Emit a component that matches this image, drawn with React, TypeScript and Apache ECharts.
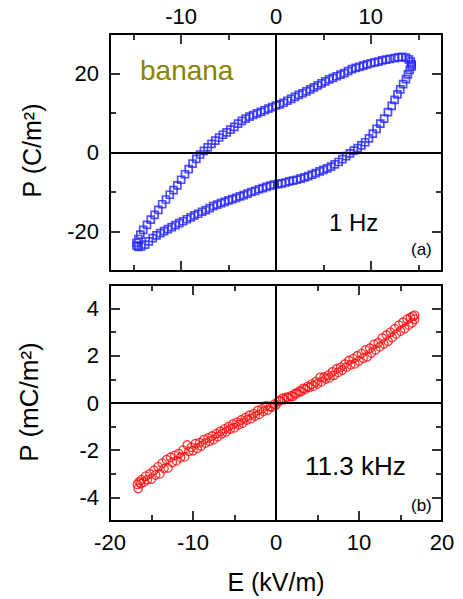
import React, { useEffect, useRef } from "react";
import * as echarts from "echarts";

const FONT = "Liberation Sans";

// ---- tick / label values ----
const topXLabels = [-10, 0, 10];
const topXMajor = [-10, 0, 10];
const topXMinor = [-15, -5, 5, 15];
const topYLabels = [-20, 0, 20];
const topYMajor = [-20, 0, 20];
const topYMinor = [-10, 10];
const botXLabels = [-20, -10, 0, 10, 20];
const botXMajor = [-20, -10, 0, 10, 20];
const botXMinor = [-15, -5, 5, 15];
const botYLabels = [-4, -2, 0, 2, 4];
const botYMajor = [-4, -2, 0, 2, 4];
const botYMinor = [-3, -1, 1, 3];

// ---- (a) 1 Hz hysteresis loop: [E (kV/m), P (C/m²)] ----
const loopUpperBranch = [
  [14.3, 22.3], [14.2, 23.0], [14.0, 23.6], [13.7, 24.0], [13.3, 24.2], [12.9, 24.1], [12.5, 23.9],
  [12.0, 23.7], [11.6, 23.5], [11.2, 23.3], [10.8, 23.0], [10.4, 22.8], [10.0, 22.6], [9.6, 22.3],
  [9.2, 22.0], [8.8, 21.7], [8.4, 21.4], [8.0, 21.1], [7.6, 20.6], [7.2, 20.1], [6.8, 19.7],
  [6.4, 19.3], [6.0, 18.9], [5.6, 18.5], [5.2, 18.0], [4.8, 17.5], [4.4, 17.0], [4.0, 16.5],
  [3.6, 16.0], [3.2, 15.5], [2.8, 15.0], [2.4, 14.6], [2.0, 14.1], [1.6, 13.6], [1.2, 13.1],
  [0.8, 12.6], [0.4, 12.2], [0.0, 11.9], [-0.4, 11.5], [-0.8, 11.1], [-1.2, 10.7], [-1.6, 10.3],
  [-2.0, 9.9], [-2.4, 9.5], [-2.8, 9.1], [-3.2, 8.6], [-3.6, 8.0], [-4.0, 7.3], [-4.4, 6.5],
  [-4.8, 5.8], [-5.2, 5.1], [-5.6, 4.5], [-6.0, 3.8], [-6.4, 3.0], [-6.8, 2.2], [-7.2, 1.3],
  [-7.6, 0.4], [-8.0, -0.5], [-8.4, -1.6], [-8.8, -2.8], [-9.2, -4.2], [-9.6, -5.5], [-10.0, -6.9],
  [-10.4, -8.3], [-10.8, -9.5], [-11.2, -10.7], [-11.6, -11.9], [-12.0, -13.1], [-12.4, -14.5],
  [-12.8, -15.8], [-13.2, -17.0], [-13.6, -18.3], [-14.0, -19.6], [-14.3, -20.8], [-14.5, -21.9],
  [-14.7, -22.9], [-14.7, -23.6], [-14.5, -23.9],
];
const loopLowerBranch = [
  [-14.2, -23.8], [-13.8, -23.3], [-13.4, -22.5], [-13.0, -21.7], [-12.6, -21.0], [-12.2, -20.4],
  [-11.8, -19.9], [-11.4, -19.4], [-11.0, -18.9], [-10.6, -18.4], [-10.2, -17.9], [-9.8, -17.4],
  [-9.4, -16.9], [-9.0, -16.4], [-8.6, -15.9], [-8.2, -15.5], [-7.8, -15.0], [-7.4, -14.6],
  [-7.0, -14.1], [-6.6, -13.6], [-6.2, -13.2], [-5.8, -12.8], [-5.4, -12.5], [-5.0, -12.1],
  [-4.6, -11.8], [-4.2, -11.5], [-3.8, -11.1], [-3.4, -10.8], [-3.0, -10.4], [-2.6, -10.0],
  [-2.2, -9.7], [-1.8, -9.3], [-1.4, -9.0], [-1.0, -8.7], [-0.6, -8.4], [-0.2, -8.1], [0.2, -8.0],
  [0.6, -7.8], [1.0, -7.6], [1.4, -7.3], [1.8, -7.1], [2.2, -6.9], [2.6, -6.6], [3.0, -6.3],
  [3.4, -6.0], [3.8, -5.6], [4.2, -5.2], [4.6, -4.8], [5.0, -4.4], [5.4, -4.0], [5.8, -3.6],
  [6.2, -3.0], [6.6, -2.4], [7.0, -1.7], [7.4, -0.9], [7.8, -0.2], [8.2, 0.5], [8.6, 1.1],
  [9.0, 1.8], [9.4, 2.6], [9.8, 3.6], [10.2, 4.8], [10.6, 6.0], [11.0, 7.3], [11.4, 8.6],
  [11.8, 10.2], [12.2, 11.8], [12.5, 13.3], [12.8, 14.7], [13.1, 16.0], [13.4, 17.3], [13.7, 18.6],
  [13.9, 19.8], [14.1, 20.9], [14.3, 21.8],
];

// ---- (b) 11.3 kHz: [E (kV/m), P (mC/m²)] ----
const kHzSweepUp = [
  [-16.6, -3.62], [-16.3, -3.42], [-15.9, -3.35], [-15.5, -3.25], [-15.0, -3.22], [-14.5, -3.05],
  [-14.0, -3.0], [-13.5, -2.78], [-13.0, -2.75], [-12.5, -2.52], [-12.0, -2.45], [-11.5, -2.3],
  [-11.0, -2.28], [-10.5, -2.05], [-10.0, -2.02], [-9.5, -1.92], [-9.0, -1.82], [-8.5, -1.7],
  [-8.0, -1.62], [-7.5, -1.55], [-7.0, -1.42], [-6.5, -1.3], [-6.0, -1.22], [-5.5, -1.1],
  [-5.0, -1.05], [-4.5, -0.92], [-4.0, -0.85], [-3.5, -0.72], [-3.0, -0.66], [-2.5, -0.55],
  [-2.0, -0.48], [-1.5, -0.35], [-1.0, -0.3], [-0.5, -0.18], [0.0, -0.08], [0.5, 0.1], [1.0, 0.15],
  [1.5, 0.22], [2.0, 0.28], [2.5, 0.4], [3.0, 0.48], [3.5, 0.58], [4.0, 0.66], [4.5, 0.72],
  [5.0, 0.82], [5.5, 0.9], [6.0, 1.02], [6.5, 1.08], [7.0, 1.18], [7.5, 1.3], [8.0, 1.4],
  [8.5, 1.52], [9.0, 1.62], [9.5, 1.66], [10.0, 1.78], [10.5, 1.9], [11.0, 1.96], [11.5, 2.12],
  [12.0, 2.25], [12.5, 2.38], [13.0, 2.5], [13.5, 2.62], [14.0, 2.78], [14.5, 2.92], [15.0, 3.05],
  [15.5, 3.15], [16.0, 3.3], [16.4, 3.4], [16.7, 3.55],
];
const kHzSweepDown = [
  [16.7, 3.72], [16.5, 3.68], [16.2, 3.62], [15.8, 3.55], [15.3, 3.42], [14.8, 3.3], [14.3, 3.15],
  [13.8, 3.0], [13.3, 2.88], [12.8, 2.75], [12.3, 2.55], [11.8, 2.48], [11.3, 2.32], [10.8, 2.25],
  [10.3, 2.1], [9.8, 2.0], [9.3, 1.88], [8.8, 1.8], [8.3, 1.65], [7.8, 1.52], [7.3, 1.45],
  [6.8, 1.32], [6.3, 1.18], [5.8, 1.1], [5.3, 1.08], [4.8, 0.9], [4.3, 0.8], [3.8, 0.7],
  [3.3, 0.62], [2.8, 0.5], [2.3, 0.4], [1.8, 0.3], [1.3, 0.25], [0.8, 0.2], [0.3, 0.08],
  [-0.2, -0.05], [-0.7, -0.15], [-1.2, -0.12], [-1.7, -0.25], [-2.2, -0.32], [-2.7, -0.45],
  [-3.2, -0.52], [-3.7, -0.62], [-4.2, -0.72], [-4.7, -0.82], [-5.2, -0.9], [-5.7, -1.0],
  [-6.2, -1.1], [-6.7, -1.2], [-7.2, -1.3], [-7.7, -1.4], [-8.2, -1.48], [-8.7, -1.55],
  [-9.2, -1.68], [-9.7, -1.72], [-10.2, -1.88], [-10.7, -1.78], [-11.2, -2.0], [-11.7, -2.15],
  [-12.2, -2.22], [-12.7, -2.3], [-13.2, -2.4], [-13.7, -2.55], [-14.2, -2.7], [-14.7, -2.85],
  [-15.2, -3.0], [-15.7, -3.1], [-16.2, -3.25], [-16.5, -3.35], [-16.7, -3.45],
];

const BLUE = "#2424ff";
const RED = "#ff0a0a";

type AxOpts = {
  gridIndex: number;
  position: string;
  min: number;
  max: number;
  ticks: number[];
  len: number;
  line: boolean;
  labels?: number[];
  margin?: number;
};

function makeAxis(o: AxOpts) {
  return {
    type: "value",
    gridIndex: o.gridIndex,
    position: o.position,
    min: o.min,
    max: o.max,
    axisLine: { show: o.line, onZero: false, lineStyle: { color: "#000", width: 2 } },
    axisTick: {
      show: true,
      inside: true,
      length: o.len,
      customValues: o.ticks,
      lineStyle: { color: "#000", width: 1.6 },
    },
    axisLabel: o.labels
      ? {
          show: true,
          customValues: o.labels,
          margin: o.margin ?? 8,
          fontSize: 22,
          fontFamily: FONT,
          color: "#000",
        }
      : { show: false },
    splitLine: { show: false },
  };
}

const zeroLines = {
  silent: true,
  symbol: ["none", "none"],
  label: { show: false },
  lineStyle: { color: "#000", width: 2, type: "solid" },
  data: [{ xAxis: 0 }, { yAxis: 0 }],
  animation: false,
};

export default function App() {
  const ref = useRef<HTMLDivElement>(null);

  useEffect(() => {
    if (!ref.current) return;
    const chart = echarts.init(ref.current, null, { renderer: "svg" });

    const xAxes = [
      // top panel (grid 0)
      makeAxis({ gridIndex: 0, position: "top", min: -17.5, max: 17.5, ticks: topXMajor, len: 10, line: true, labels: topXLabels, margin: 7 }),
      makeAxis({ gridIndex: 0, position: "bottom", min: -17.5, max: 17.5, ticks: topXMajor, len: 10, line: true }),
      makeAxis({ gridIndex: 0, position: "top", min: -17.5, max: 17.5, ticks: topXMinor, len: 6, line: false }),
      makeAxis({ gridIndex: 0, position: "bottom", min: -17.5, max: 17.5, ticks: topXMinor, len: 6, line: false }),
      // bottom panel (grid 1)
      makeAxis({ gridIndex: 1, position: "bottom", min: -20, max: 20, ticks: botXMajor, len: 10, line: true, labels: botXLabels, margin: 10 }),
      makeAxis({ gridIndex: 1, position: "top", min: -20, max: 20, ticks: botXMajor, len: 10, line: true }),
      makeAxis({ gridIndex: 1, position: "bottom", min: -20, max: 20, ticks: botXMinor, len: 6, line: false }),
      makeAxis({ gridIndex: 1, position: "top", min: -20, max: 20, ticks: botXMinor, len: 6, line: false }),
    ];
    const yAxes = [
      makeAxis({ gridIndex: 0, position: "left", min: -30, max: 30, ticks: topYMajor, len: 10, line: true, labels: topYLabels, margin: 11 }),
      makeAxis({ gridIndex: 0, position: "right", min: -30, max: 30, ticks: topYMajor, len: 10, line: true }),
      makeAxis({ gridIndex: 0, position: "left", min: -30, max: 30, ticks: topYMinor, len: 6, line: false }),
      makeAxis({ gridIndex: 0, position: "right", min: -30, max: 30, ticks: topYMinor, len: 6, line: false }),
      makeAxis({ gridIndex: 1, position: "left", min: -5, max: 5, ticks: botYMajor, len: 10, line: true, labels: botYLabels, margin: 11 }),
      makeAxis({ gridIndex: 1, position: "right", min: -5, max: 5, ticks: botYMajor, len: 10, line: true }),
      makeAxis({ gridIndex: 1, position: "left", min: -5, max: 5, ticks: botYMinor, len: 6, line: false }),
      makeAxis({ gridIndex: 1, position: "right", min: -5, max: 5, ticks: botYMinor, len: 6, line: false }),
    ];

    const squareStyle = { color: "transparent", borderColor: BLUE, borderWidth: 1.7 };
    const circleStyle = { color: "transparent", borderColor: RED, borderWidth: 1.3 };

    const txt = (text: string, x: number, y: number, size: number, fill = "#000", align = "left", rotation = 0) => ({
      type: "text",
      x,
      y,
      rotation,
      silent: true,
      style: { text, fill, fontSize: size, fontFamily: FONT, align, verticalAlign: "middle" },
    });

    chart.setOption({
      animation: false,
      backgroundColor: "#fff",
      grid: [
        { left: 110, top: 34, width: 332, height: 237, containLabel: false },
        { left: 110, top: 285, width: 332, height: 236, containLabel: false },
      ],
      xAxis: xAxes,
      yAxis: yAxes,
      series: [
        {
          name: "1 Hz upper",
          type: "scatter",
          xAxisIndex: 0,
          yAxisIndex: 0,
          symbol: "rect",
          symbolSize: 7,
          itemStyle: squareStyle,
          data: loopUpperBranch,
          markLine: zeroLines,
        },
        {
          name: "1 Hz lower",
          type: "scatter",
          xAxisIndex: 0,
          yAxisIndex: 0,
          symbol: "rect",
          symbolSize: 7,
          itemStyle: squareStyle,
          data: loopLowerBranch,
        },
        {
          name: "11.3 kHz up",
          type: "scatter",
          xAxisIndex: 4,
          yAxisIndex: 4,
          symbol: "circle",
          symbolSize: 8.5,
          itemStyle: circleStyle,
          data: kHzSweepUp,
          markLine: zeroLines,
        },
        {
          name: "11.3 kHz down",
          type: "scatter",
          xAxisIndex: 4,
          yAxisIndex: 4,
          symbol: "circle",
          symbolSize: 8.5,
          itemStyle: circleStyle,
          data: kHzSweepDown,
        },
      ],
      graphic: [
        txt("banana", 140, 70.5, 28, "#8c8200"),
        txt("1 Hz", 329, 222.5, 24),
        txt("(a)", 411, 249.5, 17),
        txt("11.3 kHz", 305, 466, 26),
        txt("(b)", 411, 505, 17),
        txt("P (C/m²)", 31.5, 150.5, 25, "#000", "center", Math.PI / 2),
        txt("P (mC/m²)", 28.5, 402, 26, "#000", "center", Math.PI / 2),
        txt("E (kV/m)", 276, 582, 25, "#000", "center"),
      ],
    });

    return () => chart.dispose();
  }, []);

  return (
    <div
      ref={ref}
      style={{ position: "fixed", left: 0, top: 0, width: 463, height: 599, background: "#fff" }}
    />
  );
}
